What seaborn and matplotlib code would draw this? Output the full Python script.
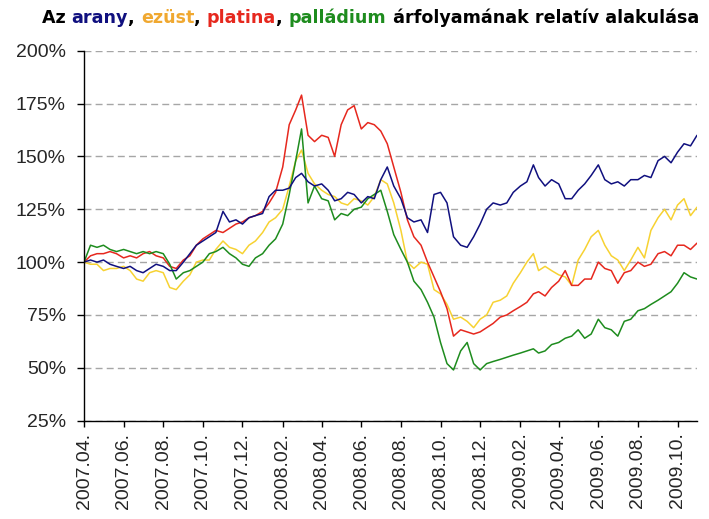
import pandas as pd
import matplotlib
matplotlib.use("Agg")
import matplotlib.pyplot as plt
import matplotlib.dates as mdates
from matplotlib.ticker import FuncFormatter
import seaborn as sns

# === 1. Data: relative price (%), 3 readings per month ===
months = pd.period_range("2007-04", "2009-10", freq="M")
dates = [m.to_timestamp() + pd.Timedelta(days=d) for m in months for d in (0, 10, 20)]
dates.append(pd.Timestamp("2009-10-31"))

arany = [
    100, 101, 100, 101, 99, 98, 97, 98, 96, 95, 97, 99,
    98, 96, 96, 100, 104, 108, 110, 112, 114, 124, 119, 120,
    118, 121, 122, 123, 131, 134, 134, 135, 140, 142, 138, 136,
    137, 134, 129, 130, 133, 132, 128, 131, 130, 139, 145, 136,
    130, 121, 119, 120, 114, 132, 133, 128, 112, 108, 107, 112,
    118, 125, 128, 127, 128, 133, 136, 138, 146, 140, 136, 139,
    137, 130, 130, 134, 137, 141, 146, 139, 137, 138, 136, 139,
    139, 141, 140, 148, 150, 147, 152, 156, 155, 160,
]
ezust = [
    100, 99, 99, 96, 97, 97, 98, 96, 92, 91, 95, 96,
    95, 88, 87, 91, 94, 100, 101, 101, 106, 110, 107, 106,
    104, 108, 110, 114, 119, 121, 125, 136, 148, 153, 142, 137,
    134, 132, 131, 128, 127, 130, 129, 127, 131, 139, 137, 128,
    115, 100, 97, 100, 99, 87, 85, 80, 73, 74, 72, 69,
    73, 75, 81, 82, 84, 90, 95, 100, 104, 96, 98, 96,
    94, 93, 89, 101, 106, 112, 115, 108, 103, 101, 96, 101,
    107, 102, 115, 121, 125, 120, 127, 130, 122, 126,
]
platina = [
    100, 103, 104, 104, 105, 104, 102, 103, 102, 104, 105, 103,
    102, 98, 97, 101, 103, 108, 111, 113, 115, 114, 116, 118,
    119, 121, 122, 124, 128, 133, 145, 165, 172, 179, 160, 157,
    160, 159, 150, 165, 172, 174, 163, 166, 165, 162, 156, 145,
    133, 120, 112, 108, 100, 93, 86, 78, 65, 68, 67, 66,
    67, 69, 71, 74, 75, 77, 79, 81, 85, 86, 84, 88,
    91, 96, 89, 89, 92, 92, 100, 97, 96, 90, 95, 96,
    100, 98, 99, 104, 105, 103, 108, 108, 106, 109,
]
palladium = [
    100, 108, 107, 108, 106, 105, 106, 105, 104, 105, 104, 105,
    104, 99, 92, 95, 96, 98, 100, 104, 105, 107, 104, 102,
    99, 98, 102, 104, 108, 111, 118, 132, 148, 163, 128, 136,
    130, 129, 120, 123, 122, 125, 126, 130, 132, 134, 124, 113,
    106, 100, 91, 87, 81, 74, 62, 52, 49, 58, 62, 52,
    49, 52, 53, 54, 55, 56, 57, 58, 59, 57, 58, 61,
    62, 64, 65, 68, 64, 66, 73, 69, 68, 65, 72, 73,
    77, 78, 80, 82, 84, 86, 90, 95, 93, 92,
]

y_ticks = [25, 50, 75, 100, 125, 150, 175, 200]

# colours
c_arany = "#10107f"
c_ezust = "#f7d232"
c_ezust_title = "#f0a830"
c_platina = "#e6281e"
c_palladium = "#1e8c1e"

df = pd.concat([
    pd.DataFrame({"Date": dates, "Value": arany, "Metal": "arany"}),
    pd.DataFrame({"Date": dates, "Value": ezust, "Metal": "ezüst"}),
    pd.DataFrame({"Date": dates, "Value": platina, "Metal": "platina"}),
    pd.DataFrame({"Date": dates, "Value": palladium, "Metal": "palládium"}),
])

# === 2. Plotting ===
sns.set_theme(style="ticks")
plt.rcParams["font.family"] = ["Liberation Sans", "DejaVu Sans"]

fig = plt.figure(figsize=(7.09, 5.19), dpi=100)
ax = fig.add_axes([0.1185, 0.1894, 0.8646, 0.7129])

sns.lineplot(
    data=df, x="Date", y="Value", hue="Metal",
    hue_order=["ezüst", "platina", "palládium", "arany"],
    palette={"arany": c_arany, "ezüst": c_ezust, "platina": c_platina, "palládium": c_palladium},
    linewidth=1.1, legend=False, ax=ax,
)

ax.set_ylim(25, 200)
ax.set_yticks(y_ticks)
ax.yaxis.set_major_formatter(FuncFormatter(lambda v, p: f"{v:.0f}%"))
ax.set_xlim(pd.Timestamp("2007-04-01"), pd.Timestamp("2009-10-31"))
ax.xaxis.set_major_locator(mdates.MonthLocator(bymonth=[2, 4, 6, 8, 10, 12]))
ax.xaxis.set_major_formatter(mdates.DateFormatter("%Y.%m."))
ax.set_xlabel("")
ax.set_ylabel("")

ax.grid(axis="y", color="#a6a6a6", linestyle=(0, (5, 3)), linewidth=1.0)
ax.set_axisbelow(True)
sns.despine(ax=ax)
for s in ("left", "bottom"):
    ax.spines[s].set_color("black")
    ax.spines[s].set_linewidth(1.0)

ax.tick_params(axis="y", direction="out", length=5, width=1, color="black", labelsize=14, pad=8)
ax.tick_params(axis="x", direction="out", length=4.5, width=1, color="black", labelsize=14, pad=4,
               labelrotation=90)

# Multicoloured title
pieces = [
    ("Az ", "black"), ("arany", c_arany), (", ", "black"), ("ezüst", c_ezust_title),
    (", ", "black"), ("platina", c_platina), (", ", "black"), ("palládium", c_palladium),
    (" árfolyamának relatív alakulása", "black"),
]
t = fig.text(0.059, 0.948, pieces[0][0], color=pieces[0][1], fontsize=12.6,
             fontweight="bold", family="DejaVu Sans", va="bottom", ha="left")
for txt, col in pieces[1:]:
    t = ax.annotate(txt, xy=(1, 0), xycoords=t, va="bottom", ha="left", color=col,
                    fontsize=12.6, fontweight="bold", family="DejaVu Sans",
                    annotation_clip=False)

plt.savefig("out.png", dpi=100)
